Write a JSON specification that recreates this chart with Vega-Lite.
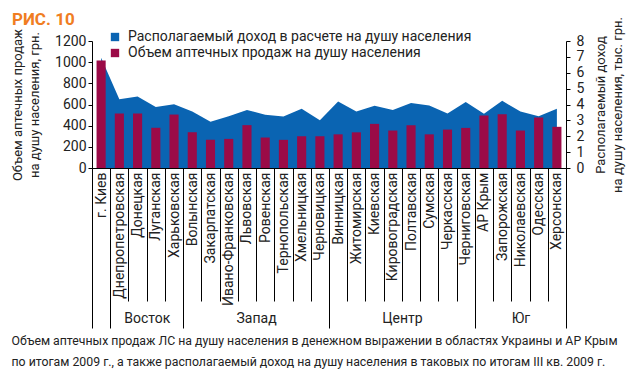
{
  "$schema": "https://vega.github.io/schema/vega-lite/v6.json",
  "width": 474,
  "height": 127,
  "autosize": {"type": "none"},
  "padding": {"left": 92, "top": 41, "right": 74, "bottom": 207},
  "background": "white",
  "title": {"text": "РИС. 10", "anchor": "start", "frame": "group", "dx": -80, "offset": -12, "color": "#F07D22", "fontSize": 17, "font": "Roboto", "fontWeight": "bold"},
  "config": {
    "view": {"stroke": null},
    "font": "Roboto",
    "axis": {"domainColor": "#000", "tickColor": "#000", "labelColor": "#222", "titleColor": "#222", "grid": false, "labelFont": "Roboto", "titleFont": "Roboto", "titleFontWeight": "normal"},
    "legend": {"labelFont": "Roboto"}
  },
  "data": {"values": [
    {"region": "г. Киев", "group": "", "sales": 1015, "income": 6.95},
    {"region": "Днепропетровская", "group": "Восток", "sales": 515, "income": 4.33},
    {"region": "Донецкая", "group": "Восток", "sales": 515, "income": 4.5},
    {"region": "Луганская", "group": "Восток", "sales": 380, "income": 3.85},
    {"region": "Харьковская", "group": "Восток", "sales": 505, "income": 4.02},
    {"region": "Волынская", "group": "Запад", "sales": 338, "income": 3.56},
    {"region": "Закарпатская", "group": "Запад", "sales": 267, "income": 2.92},
    {"region": "Ивано-Франковская", "group": "Запад", "sales": 275, "income": 3.26},
    {"region": "Львовская", "group": "Запад", "sales": 405, "income": 3.66},
    {"region": "Ровенская", "group": "Запад", "sales": 288, "income": 3.35},
    {"region": "Тернопольская", "group": "Запад", "sales": 266, "income": 3.24},
    {"region": "Хмельницкая", "group": "Запад", "sales": 300, "income": 3.73},
    {"region": "Черновицкая", "group": "Запад", "sales": 300, "income": 3.01},
    {"region": "Винницкая", "group": "Центр", "sales": 318, "income": 4.19},
    {"region": "Житомирская", "group": "Центр", "sales": 337, "income": 3.56},
    {"region": "Киевская", "group": "Центр", "sales": 417, "income": 3.92},
    {"region": "Кировоградская", "group": "Центр", "sales": 354, "income": 3.66},
    {"region": "Полтавская", "group": "Центр", "sales": 404, "income": 4.1},
    {"region": "Сумская", "group": "Центр", "sales": 318, "income": 3.94},
    {"region": "Черкасская", "group": "Центр", "sales": 363, "income": 3.43},
    {"region": "Черниговская", "group": "Центр", "sales": 379, "income": 4.15},
    {"region": "АР Крым", "group": "Юг", "sales": 496, "income": 3.41},
    {"region": "Запорожская", "group": "Юг", "sales": 508, "income": 4.23},
    {"region": "Николаевская", "group": "Юг", "sales": 354, "income": 3.56},
    {"region": "Одесская", "group": "Юг", "sales": 477, "income": 3.26},
    {"region": "Херсонская", "group": "Юг", "sales": 389, "income": 3.73}
  ]},
  "layer": [
    {
      "mark": {"type": "area", "interpolate": "linear"},
      "encoding": {
        "x": {"field": "region", "type": "nominal", "sort": null, "scale": {"paddingInner": 0, "paddingOuter": 0},
          "axis": {"title": null, "orient": "bottom", "ticks": true, "tickBand": "extent", "tickSize": 133, "tickWidth": 1, "labelAngle": -90, "labelAlign": "right", "labelBaseline": "middle", "labelPadding": -129, "labelFontSize": 14, "labelOverlap": false, "domain": true, "domainWidth": 1}},
        "y": {"field": "income", "type": "quantitative", "scale": {"domain": [0, 8], "nice": false},
          "axis": {"orient": "right", "values": [0, 1, 2, 3, 4, 5, 6, 7, 8], "format": "d", "tickSize": 4, "labelPadding": 6, "labelFontSize": 14, "title": ["Располагаемый доход", "на душу населения, тыс. грн."], "titleAngle": -90, "titleBaseline": "top", "titleFontSize": 13, "titleLineHeight": 17, "titlePadding": -6}},
        "color": {"datum": "Располагаемый доход в расчете на душу населения", "type": "nominal",
          "scale": {"domain": ["Располагаемый доход в расчете на душу населения", "Объем аптечных продаж на душу населения"], "range": ["#0A64B2", "#9B0B47"]},
          "legend": {"title": null, "orient": "none", "legendX": 16, "legendY": -11, "symbolType": "square", "symbolSize": 70, "symbolStrokeWidth": 0, "labelFontSize": 14, "labelLimit": 0, "labelColor": "#222", "rowPadding": 2, "labelOffset": 6}}
      }
    },
    {
      "mark": {"type": "bar", "width": {"band": 0.5}},
      "encoding": {
        "x": {"field": "region", "type": "nominal", "sort": null,
          "axis": {"orient": "bottom", "values": ["г. Киев", "Харьковская", "Черновицкая", "Черниговская", "Херсонская"], "ticks": true, "tickBand": "extent", "tickSize": 160, "tickWidth": 1, "domain": false, "labelAngle": 0, "labelAlign": "center", "labelBaseline": "middle", "labelPadding": -10, "labelFontSize": 14, "labelOverlap": false,
            "labelExpr": "datum.value == 'Харьковская' ? 'Восток' : datum.value == 'Черновицкая' ? 'Запад' : datum.value == 'Черниговская' ? 'Центр' : datum.value == 'Херсонская' ? 'Юг' : ''",
            "labelOffset": {"condition": [{"test": "datum.value === 'Харьковская'", "value": -27.3}, {"test": "datum.value === 'Черновицкая' || datum.value === 'Черниговская'", "value": -63.8}, {"test": "datum.value === 'Херсонская'", "value": -36.5}], "value": 0},
            "title": ["Объем аптечных продаж ЛС на душу населения в денежном выражении в областях Украины и АР Крым", "по итогам 2009 г., а также располагаемый доход на душу населения в таковых по итогам III кв. 2009 г."],
            "titleX": -81, "titleY": 176, "titleAlign": "left", "titleAnchor": "start", "titleBaseline": "alphabetic", "titleFontSize": 12.3, "titleLineHeight": 21}},
        "y": {"field": "sales", "type": "quantitative", "scale": {"domain": [0, 1200], "nice": false},
          "axis": {"orient": "left", "values": [0, 200, 400, 600, 800, 1000, 1200], "format": "d", "tickSize": 4, "labelPadding": 2, "labelFontSize": 14, "title": ["Объем аптечных продаж", "на душу населения, грн."], "titleFontSize": 13, "titleLineHeight": 17, "titlePadding": 13}},
        "color": {"datum": "Объем аптечных продаж на душу населения", "type": "nominal"}
      }
    }
  ],
  "resolve": {"scale": {"y": "independent"}, "axis": {"x": "independent"}}
}
